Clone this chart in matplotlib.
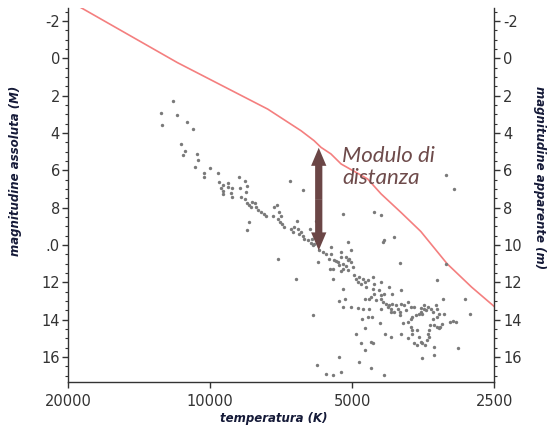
import matplotlib
matplotlib.use('Agg')
import matplotlib.pyplot as plt
from matplotlib.ticker import FixedLocator, MultipleLocator, NullLocator
from matplotlib.patches import FancyArrowPatch

# ---- data ----
curve_T = [20000, 18700, 11740, 7555, 6420, 6026, 5824, 5550, 5280, 4640, 4345, 3940, 3580, 3148, 2794, 2480]
curve_M = [-3.1, -2.68, 0.23, 2.72, 3.88, 4.41, 4.77, 5.12, 5.66, 6.46, 7.26, 8.26, 9.27, 11.0, 12.25, 13.37]

star_T = [11980, 12720, 11750, 12650, 11230, 10900, 11510, 11330, 11420, 10680,
          10630, 10800, 10020, 10320, 10320, 9630, 8690, 8450, 9580, 9420,
          9160, 9190, 9500, 8980, 9420, 9390, 8650, 8380, 8410, 9020,
          9000, 8600, 8450, 6780, 6370, 8370, 8260, 8210, 8280, 8370,
          8140, 8050, 8010, 7940, 7820, 7690, 7630, 7320, 7220, 7140,
          7200, 7030, 6980, 6750, 6640, 6690, 6550, 6480, 6370, 6320,
          6210, 6160, 6130, 6070, 7190, 5970, 5880, 5780, 5690, 5550,
          5550, 5600, 5460, 5370, 5280, 5240, 5150, 5110, 5070, 5280,
          5240, 5920, 5500, 6590, 5500, 5110, 7380, 7090, 7110, 6510,
          6420, 6100, 6020, 5850, 5420, 5570, 5280, 5150, 5110, 5240,
          5330, 5030, 4990, 4950, 4910, 4830, 4750, 4870, 4790, 4710,
          4640, 4670, 4530, 4500, 4350, 4530, 4380, 4500, 4340, 4280,
          4180, 4110, 3940, 4610, 4560, 4460, 4340, 4710, 4310, 4240,
          4210, 4180, 4140, 4110, 4040, 4010, 4070, 4140, 3970, 3940,
          3880, 3810, 3760, 3700, 3840, 3970, 3730, 3670, 3610, 3550,
          3520, 3580, 3760, 3810, 3910, 3760, 3730, 3730, 3650, 3610,
          3810, 3700, 3650, 3580, 3550, 4350, 4600, 4750, 4870, 5030,
          5240, 5180, 5330, 5240, 4770, 4640, 4550, 4370, 4710, 4910,
          4260, 4140, 4790, 4570, 4530, 4710, 5330, 4830, 4570, 5280,
          5500, 4280, 3970, 3940, 4500, 4340, 4280, 4310, 4070, 5040,
          3160, 3040, 3160, 3300, 3210, 2890, 2810, 2990, 3360, 5690,
          5940, 6070, 3520, 3460, 3490, 3580, 3410, 3330, 3310, 3380,
          3270, 3200, 3300, 3380, 3420, 3360, 3300, 3260, 3230, 3270,
          3100, 3060, 3020, 3440, 3460, 3440, 3470, 3550, 3510, 3360]
star_M = [2.28, 2.95, 3.06, 3.55, 3.43, 3.79, 4.59, 4.99, 5.16, 5.10,
          5.45, 5.80, 5.87, 6.12, 6.33, 6.15, 6.37, 6.55, 6.65, 6.78,
          6.68, 6.91, 6.95, 6.92, 7.12, 7.24, 6.95, 6.84, 7.17, 7.23,
          7.42, 7.44, 7.53, 6.55, 7.05, 7.76, 7.83, 7.98, 8.78, 9.18,
          7.71, 7.76, 7.98, 8.15, 8.24, 8.33, 8.44, 7.98, 7.88, 8.24,
          8.60, 8.86, 9.01, 9.13, 9.04, 9.31, 8.69, 9.40, 9.49, 9.66,
          9.75, 9.13, 9.90, 10.02, 10.73, 8.69, 10.29, 10.38, 10.50, 10.47,
          10.11, 10.73, 10.82, 10.91, 10.38, 11.00, 11.14, 11.36, 10.73, 11.39,
          8.33, 10.91, 11.27, 11.84, 11.80, 9.85, 8.47, 8.47, 8.78, 9.13,
          9.31, 9.66, 9.93, 9.54, 10.86, 11.27, 10.65, 10.65, 10.82, 11.27,
          11.09, 10.91, 11.18, 11.62, 11.80, 11.71, 11.80, 11.98, 12.07, 11.98,
          11.89, 12.25, 11.71, 12.07, 11.98, 12.34, 12.43, 12.60, 12.69, 12.60,
          12.25, 12.60, 12.43, 12.87, 12.80, 12.96, 12.87, 12.87, 13.05, 13.14,
          13.32, 13.23, 13.40, 13.14, 13.23, 13.40, 13.58, 13.58, 13.58, 13.14,
          13.23, 13.05, 13.32, 13.32, 13.49, 13.76, 13.85, 13.76, 13.67, 13.67,
          13.40, 13.37, 13.94, 14.12, 14.20, 14.39, 14.56, 14.74, 14.56, 14.92,
          15.00, 15.27, 15.36, 15.19, 16.07, 13.40, 13.40, 13.40, 13.37, 13.32,
          13.32, 12.87, 13.01, 12.34, 13.97, 13.85, 13.85, 14.17, 14.47, 14.79,
          14.78, 14.95, 15.27, 15.19, 15.27, 15.63, 16.02, 16.29, 16.61, 16.79,
          16.97, 16.97, 10.95, 14.79, 8.24, 8.37, 9.72, 9.85, 9.58, 10.29,
          6.23, 6.99, 11.04, 11.89, 12.87, 12.89, 13.67, 15.54, 15.90, 16.93,
          16.40, 13.76, 13.23, 13.32, 13.49, 13.58, 13.40, 13.23, 13.40, 13.58,
          13.67, 13.71, 13.88, 13.94, 14.29, 14.29, 14.38, 14.38, 14.24, 14.47,
          14.12, 14.07, 14.12, 14.56, 14.74, 14.92, 15.06, 15.27, 15.36, 15.45]

xticks = [20000, 10000, 5000, 2500]
xtick_labels = ['20000', '10000', '5000', '2500']
yticks = [-2, 0, 2, 4, 6, 8, 10, 12, 14, 16]
left_labels = ['-2', '0', '2', '4', '6', '8', '.0', '12', '14', '16']
right_labels = ['-2', '0', '2', '4', '6', '8', '10', '12', '14', '16']

arrow_T = 5890
arrow_M = [4.79, 10.29]
note_T, note_M = 5250, 4.72
note = "Modulo di\ndistanza"

x_label = "temperatura (K)"
y_label_left = "magnitudine assoluta (M)"
y_label_right = "magnitudine apparente (m)"

# ---- style ----
axis_col = '#333333'
label_col = '#151a38'
brown = '#6b4646'

fig = plt.figure(figsize=(5.53, 4.28), dpi=100)
ax = fig.add_axes([68.3 / 553, 1 - 381.7 / 428, (494.3 - 68.3) / 553, (381.7 - 8.3) / 428])
ax.set_xscale('log')
ax.set_xlim(20000, 2500)
ax.set_ylim(17.32, -2.68)

ax.plot(curve_T, curve_M, color='#f47f7f', lw=1.2, zorder=2)
ax.scatter(star_T, star_M, s=6, color='#7a7a7a', linewidths=0, zorder=3)

mid = (arrow_T, (arrow_M[0] + arrow_M[1]) / 2)
for endM in arrow_M:
    ax.add_patch(FancyArrowPatch(mid, (arrow_T, endM),
                                 arrowstyle='simple,head_length=0.65,head_width=0.55,tail_width=0.26',
                                 mutation_scale=20, color=brown, shrinkA=0, shrinkB=0,
                                 lw=0, zorder=4))

ax.text(note_T, note_M, note, fontsize=16, style='italic', family='Lato',
        color='#6e4b4b', ha='left', va='top', linespacing=1.12, zorder=5)

ax.xaxis.set_major_locator(FixedLocator(xticks))
ax.xaxis.set_minor_locator(NullLocator())
ax.set_xticklabels(xtick_labels)
ax.yaxis.set_major_locator(FixedLocator(yticks))
ax.set_yticklabels(left_labels)
ax.yaxis.set_minor_locator(MultipleLocator(0.5))

ax2 = ax.twinx()
ax2.set_ylim(ax.get_ylim())
ax2.yaxis.set_major_locator(FixedLocator(yticks))
ax2.set_yticklabels(right_labels)
ax2.yaxis.set_minor_locator(MultipleLocator(0.5))

for a in (ax, ax2):
    for s in a.spines.values():
        s.set_color(axis_col)
        s.set_linewidth(1.0)
    a.spines['top'].set_visible(False)
ax.spines['right'].set_visible(False)
ax2.spines['left'].set_visible(False)
ax2.spines['bottom'].set_visible(False)

ax.tick_params(axis='x', which='major', length=4.5, width=1, color=axis_col,
               labelsize=10.5, labelcolor=axis_col, pad=4)
ax.tick_params(axis='y', which='major', length=4, width=1, color=axis_col,
               labelsize=10.5, labelcolor=axis_col, pad=2)
ax.tick_params(axis='y', which='minor', length=2.2, width=0.8, color=axis_col)
ax2.tick_params(axis='y', which='major', length=4, width=1, color=axis_col,
                labelsize=10.5, labelcolor=axis_col, pad=2.5)
ax2.tick_params(axis='y', which='minor', length=2.2, width=0.8, color=axis_col)

lab_font = dict(fontsize=8.5, fontweight='bold', style='italic', color=label_col)
ax.set_xlabel(x_label, **lab_font)
ax.xaxis.set_label_coords((274 - 68.3) / 426, -(412 - 381.7) / 373.4)
ax.set_ylabel(y_label_left, **lab_font)
ax.yaxis.set_label_coords(-(68.3 - 22) / 426, (381.7 - 171) / 373.4)
ax2.set_ylabel(y_label_right, rotation=-90, **lab_font)
ax2.yaxis.set_label_coords(1 + (546 - 494.3) / 426, (381.7 - 178) / 373.4)

fig.savefig('out.png', dpi=100)
